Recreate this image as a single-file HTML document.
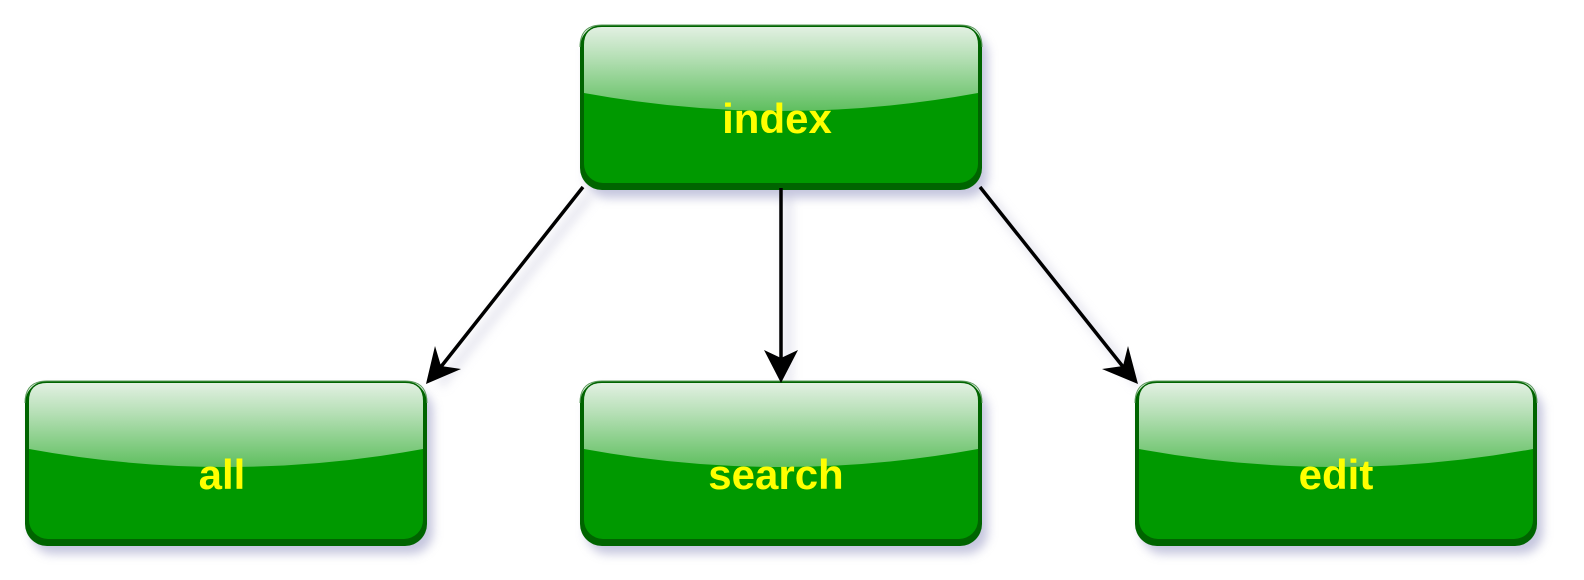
<!DOCTYPE html>
<html><head><style>html,body{margin:0;padding:0;background:#fff;width:1584px;height:580px;overflow:hidden}</style></head>
<body>
<svg width="1584" height="580" viewBox="0 0 1584 580" xmlns="http://www.w3.org/2000/svg">
<defs>
<linearGradient id="gl" x1="0" y1="0" x2="0" y2="1">
<stop offset="0" stop-color="#e2f0e2"/><stop offset="0.35" stop-color="#b7e0b7"/><stop offset="1" stop-color="#5fbf5f"/>
</linearGradient>
<filter id="sh" x="-10%" y="-10%" width="130%" height="140%"><feGaussianBlur stdDeviation="5"/></filter>
<g id="box">
<rect x="6" y="8" width="402" height="165" rx="22" fill="#9fa0c8" opacity="0.6" filter="url(#sh)"/>
<rect x="0" y="0" width="402" height="165" rx="22" fill="#006400"/>
<rect x="4" y="2" width="394" height="156" rx="19" fill="#009900"/>
<path d="M4 68 Q201 104 398 68 L398 20 Q398 2 380 2 L22 2 Q4 2 4 20 Z" fill="url(#gl)"/>
<path d="M0 22 Q0 0 22 0 L380 0 Q402 0 402 22" fill="none" stroke="#5a9a5a" stroke-width="1"/>
</g>
</defs>
<g stroke="#c8c8dc" stroke-width="8" opacity="0.5" filter="url(#sh)">
<line x1="590" y1="195" x2="440" y2="385"/><line x1="788" y1="195" x2="788" y2="385"/><line x1="987" y1="195" x2="1140" y2="385"/>
</g>
<use href="#box" x="580" y="25"/>
<use href="#box" x="25" y="381"/>
<use href="#box" x="580" y="381"/>
<use href="#box" x="1135" y="381"/>
<g stroke="#000" stroke-width="3.5">
<line x1="583" y1="187" x2="440" y2="368"/>
<line x1="781" y1="188" x2="781" y2="362"/>
<line x1="980" y1="187" x2="1124" y2="368"/>
</g>
<g fill="#000">
<path d="M426 384 L435 346 L441 366 L461 369 Z"/>
<path d="M781 383 L764 350 L781 358 L798 350 Z"/>
<path d="M1138 384 L1102 369 L1123 366 L1128 346 Z"/>
</g>
<g font-family="'Comic Sans MS','Liberation Sans',sans-serif" font-weight="bold" font-size="42" fill="#ffff00" text-anchor="middle">
<text x="777" y="133">index</text>
<text x="222" y="489">all</text>
<text x="776" y="489">search</text>
<text x="1336" y="489">edit</text>
</g>
</svg>
</body></html>
